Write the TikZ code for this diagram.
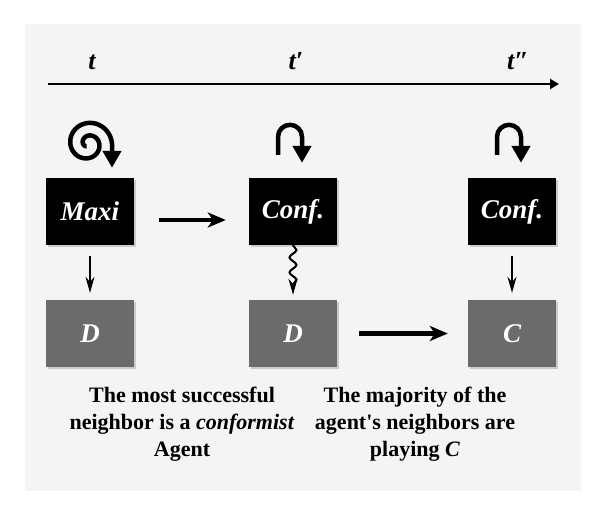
\documentclass[tikz,border=0pt]{standalone}
\usepackage{fontspec}
\setmainfont{Liberation Serif}
\usetikzlibrary{arrows.meta, decorations.pathmorphing, shadows}

\definecolor{panelgray}{HTML}{F4F4F4}
\definecolor{actgray}{HTML}{6B6B6B}

\tikzset{
  agent/.style={fill=black, minimum width=88pt, minimum height=67pt, inner sep=0pt,
    text=white, font=\fontsize{27}{32}\selectfont\bfseries\itshape,
    drop shadow={shadow xshift=1.5pt, shadow yshift=-1.5pt, opacity=0.35}},
  action/.style={agent, fill=actgray},
  timelabel/.style={anchor=base, inner sep=0pt, font=\fontsize{26}{30}\selectfont\bfseries\itshape},
  caption/.style={anchor=north, align=center, inner sep=0pt, font=\fontsize{22}{27}\selectfont\bfseries},
  thin arrow/.style={line width=1.6pt, -{Stealth[length=16pt,width=9pt]}},
  fat arrow/.style={line width=4.5pt, -{Stealth[length=18pt,width=15pt,inset=5pt]}},
  loop arrow/.style={line width=4.5pt, -{Triangle[length=17pt,width=18pt]}},
}

\begin{document}
\begin{tikzpicture}[x=1pt, y=-1pt]
  \useasboundingbox (0,0) rectangle (600,511);
  % panel
  \fill[panelgray] (25,24) rectangle (581,491);

  % time axis
  \coordinate (axisstart) at (48,84);
  \coordinate (axisend) at (559,84);
  \draw[line width=2.5pt, -{Triangle[length=9pt,width=10pt]}] (axisstart) -- (axisend);
  \node[timelabel] (t0) at (92,70) {t};
  \node[timelabel] (t1) at (296,70) {t′};
  \node[timelabel] (t2) at (518,70) {t″};

  % agents
  \node[agent] (maxi) at (90,211.5) {Maxi};
  \node[agent] (conf1) at (293,211.5) {Conf.};
  \node[agent] (conf2) at (512,211.5) {Conf.};

  % actions
  \node[action] (d1) at (90,333.5) {D};
  \node[action] (d2) at (293,333.5) {D};
  \node[action] (c3) at (512,333.5) {C};

  % self loops
  \begin{scope}[shift={(maxi.north)}]
    \draw[loop arrow] plot[domain=-600:0, samples=120, variable=\a]
      ({-2+24*(\a+680)/680*cos(\a)}, {-34+24*(\a+680)/680*sin(\a)}) -- (22,-10);
  \end{scope}
  \begin{scope}[shift={(conf1.north)}]
    \draw[loop arrow] (-15,-23) -- (-15,-41) arc[start angle=180, end angle=0, radius=12pt] -- (9,-15);
  \end{scope}
  \begin{scope}[shift={(conf2.north)}]
    \draw[loop arrow] (-15,-23) -- (-15,-41) arc[start angle=180, end angle=0, radius=12pt] -- (9,-15);
  \end{scope}

  % transitions
  \draw[fat arrow, shorten <=25pt, shorten >=23pt] ([yshift=-8.5pt]maxi.east) -- ([yshift=-8.5pt]conf1.west);
  \draw[fat arrow, shorten <=22pt, shorten >=20pt] (d2) -- (c3);

  % played actions
  \draw[thin arrow, shorten <=11pt, shorten >=7pt] (maxi) -- (d1);
  \draw[thin arrow, line width=2pt, decorate,
    decoration={snake, amplitude=3.5pt, segment length=15pt, post length=12pt},
    shorten <=5pt, shorten >=5pt] (conf1) -- (d2);
  \draw[thin arrow, shorten <=11pt, shorten >=7pt] (conf2) -- (c3);

  % captions
  \node[caption] (cap1) at (182,387) {The most successful\\neighbor is a \textit{conformist}\\Agent};
  \node[caption] (cap2) at (415,387) {The majority of the\\agent\textquotesingle s neighbors are\\playing \textit{C}};
\end{tikzpicture}
\end{document}
